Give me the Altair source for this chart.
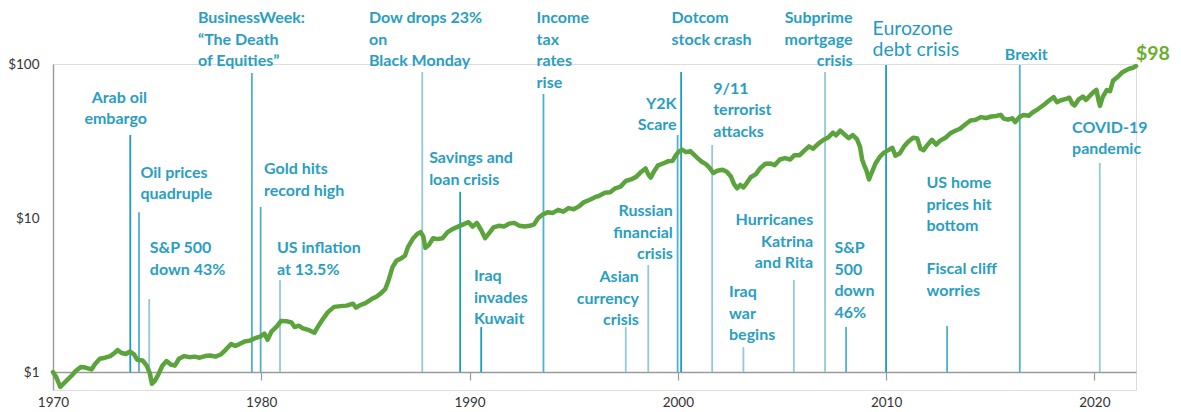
import altair as alt
import pandas as pd

# ---------------- data: growth of $1 ----------------
years = [1970.00, 1970.15, 1970.35, 1970.50, 1970.65, 1970.90, 1971.10, 1971.35, 1971.55, 1971.85,
         1972.00, 1972.25, 1972.50, 1972.75, 1972.95, 1973.10, 1973.30, 1973.50, 1973.70, 1973.90,
         1974.05, 1974.30, 1974.50, 1974.65, 1974.75, 1974.90, 1975.05, 1975.25, 1975.45, 1975.65,
         1975.85, 1976.05, 1976.30, 1976.55, 1976.80, 1977.05, 1977.30, 1977.55, 1977.80, 1978.05,
         1978.30, 1978.55, 1978.75, 1978.95, 1979.20, 1979.45, 1979.70, 1979.95, 1980.15, 1980.30,
         1980.50, 1980.75, 1980.95, 1981.20, 1981.45, 1981.60, 1981.80, 1982.00, 1982.30, 1982.55,
         1982.75, 1982.95, 1983.20, 1983.50, 1983.80, 1984.10, 1984.40, 1984.55, 1984.75, 1985.00,
         1985.30, 1985.55, 1985.75, 1985.95, 1986.10, 1986.30, 1986.50, 1986.70, 1986.90, 1987.05,
         1987.30, 1987.50, 1987.65, 1987.78, 1987.88, 1988.05, 1988.25, 1988.45, 1988.70, 1988.95,
         1989.20, 1989.45, 1989.70, 1989.95, 1990.15, 1990.35, 1990.55, 1990.75, 1990.95, 1991.15,
         1991.40, 1991.65, 1991.90, 1992.15, 1992.40, 1992.65, 1992.90, 1993.10, 1993.30, 1993.50,
         1993.75, 1994.00, 1994.25, 1994.50, 1994.75, 1995.00, 1995.25, 1995.50, 1995.75, 1996.00,
         1996.25, 1996.50, 1996.75, 1997.00, 1997.25, 1997.50, 1997.75, 1998.00, 1998.25, 1998.45,
         1998.60, 1998.70, 1998.85, 1999.05, 1999.30, 1999.55, 1999.75, 1999.90, 2000.05, 2000.20,
         2000.40, 2000.60, 2000.80, 2000.95, 2001.15, 2001.35, 2001.55, 2001.70, 2001.90, 2002.15,
         2002.35, 2002.55, 2002.70, 2002.85, 2003.00, 2003.15, 2003.30, 2003.50, 2003.75, 2003.95,
         2004.20, 2004.45, 2004.65, 2004.90, 2005.15, 2005.40, 2005.60, 2005.85, 2006.05, 2006.30,
         2006.50, 2006.75, 2007.00, 2007.20, 2007.45, 2007.60, 2007.80, 2007.95, 2008.20, 2008.40,
         2008.60, 2008.75, 2008.85, 2008.95, 2009.05, 2009.18, 2009.30, 2009.50, 2009.70, 2009.90,
         2010.15, 2010.30, 2010.45, 2010.65, 2010.85, 2011.05, 2011.30, 2011.50, 2011.65, 2011.80,
         2011.95, 2012.20, 2012.40, 2012.60, 2012.85, 2013.10, 2013.35, 2013.55, 2013.80, 2014.05,
         2014.30, 2014.55, 2014.80, 2015.05, 2015.30, 2015.50, 2015.65, 2015.85, 2016.05, 2016.20,
         2016.40, 2016.60, 2016.85, 2017.05, 2017.30, 2017.55, 2017.80, 2018.05, 2018.20, 2018.40,
         2018.65, 2018.80, 2018.95, 2019.05, 2019.25, 2019.45, 2019.60, 2019.80, 2019.95, 2020.10,
         2020.20, 2020.27, 2020.40, 2020.60, 2020.75, 2020.90, 2021.10, 2021.35, 2021.55, 2021.70,
         2021.85, 2022.00]
values = [1.00, 0.93, 0.80, 0.84, 0.88, 0.95, 1.02, 1.08, 1.07, 1.04,
          1.12, 1.22, 1.24, 1.27, 1.33, 1.39, 1.33, 1.31, 1.36, 1.30,
          1.20, 1.19, 1.10, 0.98, 0.84, 0.88, 0.96, 1.10, 1.18, 1.12,
          1.10, 1.22, 1.27, 1.25, 1.26, 1.24, 1.27, 1.28, 1.26, 1.30,
          1.40, 1.52, 1.48, 1.52, 1.58, 1.60, 1.66, 1.70, 1.78, 1.62,
          1.84, 1.98, 2.15, 2.14, 2.10, 1.96, 2.00, 1.92, 1.87, 1.80,
          2.00, 2.20, 2.45, 2.65, 2.68, 2.70, 2.78, 2.62, 2.72, 2.80,
          2.98, 3.10, 3.25, 3.45, 3.90, 4.80, 5.30, 5.45, 5.70, 6.50,
          7.40, 7.90, 8.10, 7.60, 6.40, 6.70, 7.40, 7.30, 7.40, 8.10,
          8.50, 8.80, 9.10, 9.40, 8.80, 9.30, 8.40, 7.40, 8.00, 8.70,
          8.90, 8.80, 9.20, 9.30, 8.90, 8.80, 8.90, 9.10, 10.0, 10.5,
          10.9, 10.8, 11.3, 11.0, 11.6, 11.4, 11.9, 12.7, 13.1, 13.6,
          14.0, 14.6, 14.7, 15.6, 16.0, 17.4, 17.8, 18.5, 20.0, 21.0,
          19.0, 18.3, 20.0, 22.0, 22.6, 23.4, 23.5, 25.5, 27.0, 27.8,
          26.8, 27.2, 25.6, 24.5, 23.2, 22.4, 21.0, 19.6, 20.3, 20.6,
          20.0, 18.6, 16.6, 15.6, 16.4, 15.8, 16.8, 18.4, 19.3, 21.0,
          22.5, 22.6, 22.0, 24.0, 24.5, 24.0, 25.6, 25.6, 27.2, 29.2,
          28.2, 30.4, 32.2, 33.2, 35.8, 34.4, 37.0, 35.4, 33.0, 34.6,
          32.5, 29.0, 24.0, 22.0, 20.5, 17.8, 19.6, 22.7, 25.0, 26.6,
          27.8, 28.6, 25.4, 26.2, 29.0, 31.2, 33.2, 32.8, 28.2, 27.6,
          29.4, 32.2, 30.0, 31.8, 33.2, 35.6, 37.0, 38.0, 40.5, 43.0,
          43.4, 45.2, 44.6, 45.6, 46.0, 46.8, 44.2, 43.5, 44.4, 42.0,
          45.2, 46.6, 46.2, 48.6, 51.0, 54.0, 57.5, 61.0, 56.5, 58.2,
          59.4, 60.4, 55.0, 53.8, 59.0, 61.5, 58.5, 62.5, 65.5, 68.0,
          58.0, 53.5, 61.0, 67.8, 66.5, 78.0, 82.0, 88.5, 91.5, 93.5,
          94.5, 97.0]

# ---------------- data: event lines ----------------
event_names = ["Arab oil embargo", "Oil prices quadruple", "S&P 500 down 43%", "BusinessWeek",
               "Gold hits record high", "US inflation at 13.5%", "Black Monday", "Savings and loan crisis",
               "Iraq invades Kuwait", "Income tax rates rise", "Asian currency crisis",
               "Russian financial crisis", "Y2K Scare", "Dotcom stock crash", "9/11 terrorist attacks",
               "Iraq war begins", "Hurricanes Katrina and Rita", "Subprime mortgage crisis",
               "S&P 500 down 46%", "Eurozone debt crisis", "US home prices / Fiscal cliff",
               "Brexit", "COVID-19 pandemic"]
event_years = [1973.71, 1974.13, 1974.62, 1979.55, 1979.97, 1980.90, 1987.73, 1989.55,
               1990.56, 1993.55, 1997.50, 1998.58, 1999.99, 2000.16, 2001.65, 2003.15,
               2005.57, 2007.07, 2008.08, 2010.00, 2012.93, 2016.42, 2020.26]
event_tops = [34.6, 10.9, 2.98, 87.5, 11.8, 3.96, 88.7, 14.8,
              1.96, 63.8, 1.96, 4.95, 34.6, 88.7, 29.8, 1.45,
              3.96, 88.7, 1.96, 98.6, 1.99, 98.6, 22.8]

# ---------------- data: annotation labels ----------------
left_texts = ["Oil prices\nquadruple", "S&P 500\ndown 43%", "BusinessWeek:\n\u201cThe Death\nof Equities\u201d",
              "Gold hits\nrecord high", "US inflation\nat 13.5%", "Dow drops 23%\non\nBlack Monday",
              "Savings and\nloan crisis", "Iraq\ninvades\nKuwait", "Income\ntax\nrates\nrise",
              "Dotcom\nstock crash", "9/11\nterrorist\nattacks", "Iraq\nwar\nbegins",
              "S&P\n500\ndown\n46%", "US home\nprices hit\nbottom", "Fiscal cliff\nworries",
              "Brexit", "COVID-19\npandemic"]
left_years = [1974.20, 1974.65, 1976.96, 1980.13, 1980.75, 1985.17,
              1988.06, 1990.21, 1993.22, 1999.70, 2001.70, 2002.46,
              2007.52, 2011.94, 2011.94, 2015.70, 2018.93]
left_values = [22.1, 7.2, 224.0, 23.4, 7.2, 224.0,
               27.6, 4.73, 224.0, 224.0, 77.6, 3.73,
               7.2, 19.0, 5.26, 128.9, 43.3]

right_texts = ["Arab oil\nembargo", "Asian\ncurrency\ncrisis", "Russian\nfinancial\ncrisis",
               "Y2K\nScare", "Hurricanes\nKatrina\nand Rita", "Subprime\nmortgage\ncrisis"]
right_years = [1974.51, 1998.13, 1999.76, 1999.94, 2006.50, 2008.39]
right_values = [67.8, 4.66, 12.5, 62.0, 10.9, 224.0]

big_texts = ["Eurozone\ndebt crisis"]
big_years = [2009.35]
big_values = [192.0]

end_texts = ["$98"]
end_years = [2022.0]
end_values = [116.0]

x_ticks = [1970, 1980, 1990, 2000, 2010, 2020]
y_ticks = [1, 10, 100]

# ---------------- styling ----------------
GREEN = "#5ba33b"
END_GREEN = "#6cae2e"
TEAL = "#2a9ec2"
DARK, MEDIUM, LIGHT = "#1b9bc1", "#4fb1cf", "#93c9da"
tone_of = {
    "Arab oil embargo": "dark", "Oil prices quadruple": "medium", "S&P 500 down 43%": "light",
    "BusinessWeek": "medium", "Gold hits record high": "medium", "US inflation at 13.5%": "light",
    "Black Monday": "light", "Savings and loan crisis": "dark", "Iraq invades Kuwait": "dark",
    "Income tax rates rise": "medium", "Asian currency crisis": "light",
    "Russian financial crisis": "light", "Y2K Scare": "medium", "Dotcom stock crash": "dark",
    "9/11 terrorist attacks": "light", "Iraq war begins": "light",
    "Hurricanes Katrina and Rita": "light", "Subprime mortgage crisis": "light",
    "S&P 500 down 46%": "medium", "Eurozone debt crisis": "dark",
    "US home prices / Fiscal cliff": "medium", "Brexit": "medium", "COVID-19 pandemic": "light",
}

line_df = pd.DataFrame({"year": years, "value": values})
events_df = pd.DataFrame({"name": event_names, "year": event_years, "top": event_tops})
events_df["base"] = 1
events_df["tone"] = events_df["name"].map(tone_of)
left_df = pd.DataFrame({"text": left_texts, "year": left_years, "value": left_values})
right_df = pd.DataFrame({"text": right_texts, "year": right_years, "value": right_values})
big_df = pd.DataFrame({"text": big_texts, "year": big_years, "value": big_values})
end_df = pd.DataFrame({"text": end_texts, "year": end_years, "value": end_values})

x_scale = alt.Scale(domain=[1970, 2022], nice=False, zero=False)
y_scale = alt.Scale(type="log", domain=[0.765, 100], nice=False)

x_axis = alt.Axis(values=x_ticks, format="d", offset=-18, tickSize=8, tickColor="#9a9a9a",
                  tickWidth=1.2, domainColor="#9a9a9a", domainWidth=1.4, labelFont="Lato",
                  labelFontSize=13.5, labelColor="#333333", labelPadding=15, labelFlush=False,
                  grid=False, title=None)
y_axis = alt.Axis(values=y_ticks, labelExpr="'$' + datum.value", ticks=False, tickSize=0,
                  domainColor="#9a9a9a", domainWidth=1.4, labelFont="Lato", labelFontSize=13.5,
                  labelColor="#333333", labelPadding=14, grid=False, title=None)

X = alt.X("year:Q", scale=x_scale, axis=x_axis)
Y = alt.Y("value:Q", scale=y_scale, axis=y_axis)

rules = alt.Chart(events_df).mark_rule(strokeWidth=1.8).encode(
    x=alt.X("year:Q", scale=x_scale),
    y=alt.Y("base:Q", scale=y_scale),
    y2="top:Q",
    color=alt.Color("tone:N", scale=alt.Scale(domain=["dark", "medium", "light"],
                                              range=[DARK, MEDIUM, LIGHT]), legend=None),
)

line = alt.Chart(line_df).mark_line(color=GREEN, strokeWidth=4.5, strokeJoin="round",
                                    strokeCap="round").encode(x=X, y=Y)

text_common = dict(font="Lato", fontWeight="bold", fontSize=16, color=TEAL,
                   lineBreak="\n", lineHeight=21.5, baseline="top")

left_text = alt.Chart(left_df).mark_text(align="left", **text_common).encode(
    x=alt.X("year:Q", scale=x_scale), y=alt.Y("value:Q", scale=y_scale), text="text:N")
right_text = alt.Chart(right_df).mark_text(align="right", **text_common).encode(
    x=alt.X("year:Q", scale=x_scale), y=alt.Y("value:Q", scale=y_scale), text="text:N")
big_text = alt.Chart(big_df).mark_text(align="left", baseline="top", font="Lato", fontSize=19.5,
                                       color="#1f9bc0", lineBreak="\n", lineHeight=21).encode(
    x=alt.X("year:Q", scale=x_scale), y=alt.Y("value:Q", scale=y_scale), text="text:N")
end_text = alt.Chart(end_df).mark_text(align="left", baseline="middle", font="Lato",
                                       fontWeight="bold", fontSize=19.5, color=END_GREEN, dx=0).encode(
    x=alt.X("year:Q", scale=x_scale), y=alt.Y("value:Q", scale=y_scale), text="text:N")

chart = alt.layer(rules, line, left_text, right_text, big_text, end_text).properties(
    width=1083, height=326,
    autosize=alt.AutoSizeParams(type="none"),
    padding={"left": 45, "top": 56, "right": 37, "bottom": 26},
).configure_view(stroke=None).configure(background="white")

chart.save("out.html", embed_options={"renderer": "svg", "actions": False})
